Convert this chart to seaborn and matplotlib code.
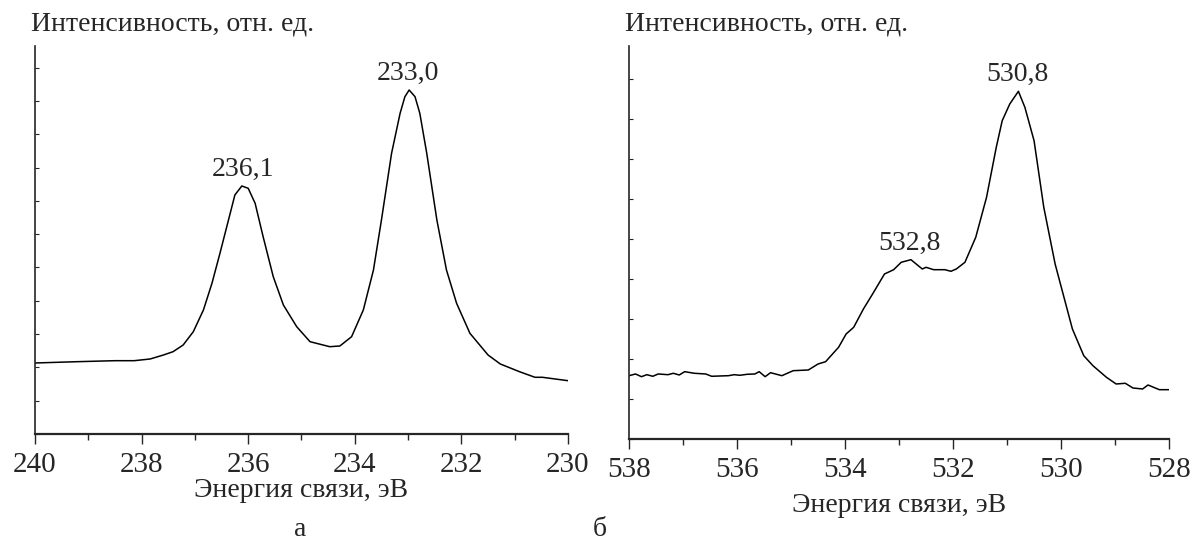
import pandas as pd
import matplotlib.pyplot as plt
import matplotlib.ticker as mticker
import seaborn as sns

# panel a: binding energy (eV) / intensity (arb. units)
e_a = [240.0, 239.21, 238.5, 238.14, 237.84, 237.59, 237.41, 237.22, 237.03, 236.84,
       236.68, 236.53, 236.37, 236.25, 236.12, 236.0, 235.87, 235.72, 235.53, 235.34,
       235.09, 234.84, 234.47, 234.28, 234.06, 233.84, 233.65, 233.5, 233.31, 233.15,
       233.06, 232.98, 232.87, 232.78, 232.65, 232.46, 232.28, 232.09, 231.84, 231.5,
       231.27, 230.91, 230.62, 230.48, 230.0]
i_a = [71, 72.3, 73.3, 73.3, 75, 79, 82.3, 89, 102.3, 124,
       150.7, 180.7, 214, 239, 248, 245.7, 230.7, 197.3, 157.3, 129,
       107.3, 92.3, 87.3, 88, 97.3, 124, 164, 214, 280.7, 320.7,
       337.3, 344, 337.3, 320.7, 280.7, 214, 164, 130.7, 100.7, 79,
       70, 62.3, 56.7, 56.7, 53.3]

# panel b
e_b = [538.0, 537.88, 537.77, 537.67, 537.56, 537.46, 537.28, 537.18, 537.07, 536.97,
       536.79, 536.58, 536.47, 536.16, 536.05, 535.95, 535.81, 535.67, 535.59, 535.48,
       535.38, 535.17, 534.96, 534.68, 534.5, 534.36, 534.12, 533.98, 533.84, 533.66,
       533.49, 533.27, 533.1, 532.96, 532.78, 532.57, 532.5, 532.36, 532.15, 532.04,
       531.94, 531.78, 531.58, 531.38, 531.2, 531.09, 530.95, 530.79, 530.67, 530.5,
       530.32, 530.11, 529.79, 529.58, 529.41, 529.16, 528.98, 528.81, 528.67, 528.49,
       528.39, 528.18, 528.0]
i_b = [63.3, 65, 62.3, 64.3, 62.7, 65, 64.3, 65.7, 64, 67.3,
       65.7, 65, 62.7, 63.3, 64.3, 63.7, 64.7, 65, 67.3, 62.3,
       66.3, 63.3, 68.3, 69, 75, 77.3, 91.7, 105, 111.7, 130,
       145, 165, 169.3, 176.7, 179.3, 170, 171.7, 169.3, 169.3, 167.7,
       170, 176.7, 201.7, 241.7, 291.7, 318.3, 335, 347.7, 331.7, 298.3,
       231.7, 175, 110, 83.3, 73.3, 61.7, 55, 55.7, 51, 50,
       54, 49.3, 49.3]

peaks_a = [(236.1, 248, "236,1"), (233.0, 344, "233,0")]
peaks_b = [(532.8, 179.3, "532,8"), (530.8, 347.7, "530,8")]

YLABEL = "Интенсивность, отн. ед."
XLABEL = "Энергия связи, эВ"

sns.set_style("ticks")
plt.rcParams["font.family"] = ["Liberation Serif", "DejaVu Serif"]
plt.rcParams["font.size"] = 20

fig = plt.figure(figsize=(11.95, 5.49), dpi=100)
ax_a = fig.add_axes([0.0293, 0.2095, 0.4460, 0.7067])
ax_b = fig.add_axes([0.5264, 0.2004, 0.4519, 0.7158])

panels = [
    (ax_a, e_a, i_a, peaks_a, (240, 230), 388, 33.3, "а", 0.251, 0.107),
    (ax_b, e_b, i_b, peaks_b, (538, 528), 393, 40, "б", 0.502, 0.080),
]

for ax, e, inten, peaks, xlim, ytop, ystep, letter, letter_x, xlab_y in panels:
    df = pd.DataFrame({"energy": e, "intensity": inten})
    sns.lineplot(data=df, x="energy", y="intensity", ax=ax, color="black",
                 linewidth=1.1, estimator=None, sort=False)
    ax.set_xlim(*xlim)
    ax.set_ylim(0, ytop)
    for pe, pi, txt in peaks:
        ax.annotate(txt, (pe, pi), xytext=(0, 3), textcoords="offset points",
                    ha="center", va="bottom", fontsize=20)
    ax.xaxis.set_major_locator(mticker.MultipleLocator(2))
    ax.xaxis.set_minor_locator(mticker.MultipleLocator(1))
    ax.tick_params(axis="x", which="major", length=7, width=1, direction="out",
                   labelsize=21, pad=6)
    ax.tick_params(axis="x", which="minor", length=4, width=1, direction="out")
    ax.yaxis.set_major_locator(mticker.MultipleLocator(ystep))
    ax.tick_params(axis="y", which="major", length=3, width=0.8, direction="in",
                   labelleft=False)
    ax.set_xlabel("")
    ax.set_ylabel("")
    for s in ["top", "right"]:
        ax.spines[s].set_visible(False)
    ax.spines["left"].set_linewidth(1.2)
    ax.spines["bottom"].set_linewidth(1.6)
    ax.set_facecolor("white")
    pos = ax.get_position()
    fig.text(pos.x0 + pos.width / 2, xlab_y, XLABEL, ha="center", va="center", fontsize=20)
    fig.text(pos.x0 - 0.003, 0.956, YLABEL, ha="left", va="center", fontsize=20)
    fig.text(letter_x, 0.035, letter, ha="center", va="center", fontsize=20)

fig.savefig("out.png", dpi=100, facecolor="white")
